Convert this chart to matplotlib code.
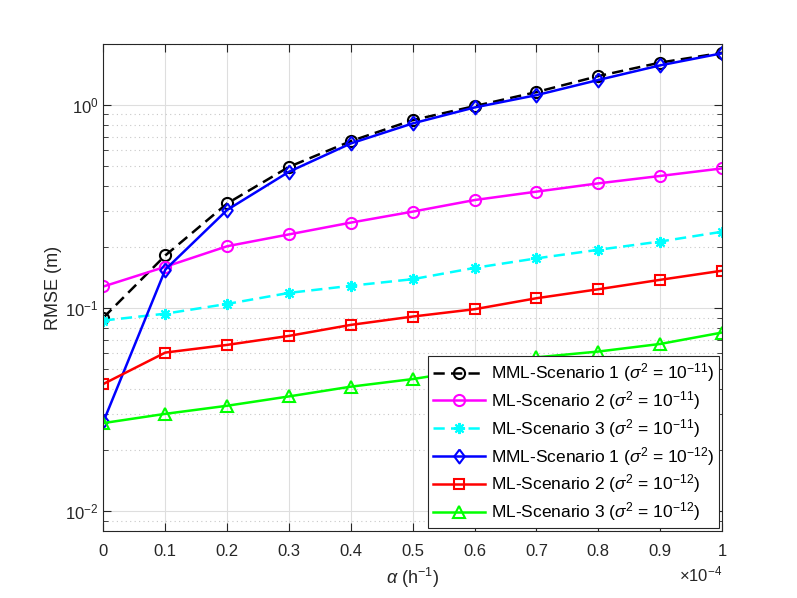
import matplotlib
matplotlib.use('Agg')
import matplotlib.pyplot as plt
from matplotlib.ticker import FixedLocator, FuncFormatter, LogLocator, NullFormatter

plt.rcParams['font.family'] = ['Liberation Sans', 'DejaVu Sans']
plt.rcParams['mathtext.fontset'] = 'custom'
plt.rcParams['mathtext.rm'] = 'Liberation Sans'
plt.rcParams['mathtext.it'] = 'Liberation Sans:italic'

# alpha values (h^-1)
alpha = [0, 0.1e-4, 0.2e-4, 0.3e-4, 0.4e-4, 0.5e-4, 0.6e-4, 0.7e-4, 0.8e-4, 0.9e-4, 1.0e-4]

# RMSE (m)
mml_s1_11 = [0.090, 0.182, 0.328, 0.497, 0.665, 0.844, 0.989, 1.16, 1.39, 1.62, 1.81]
ml_s2_11 = [0.128, 0.160, 0.202, 0.231, 0.264, 0.299, 0.341, 0.375, 0.412, 0.448, 0.488]
ml_s3_11 = [0.087, 0.094, 0.105, 0.119, 0.129, 0.139, 0.158, 0.176, 0.194, 0.213, 0.238]
mml_s1_12 = [0.0277, 0.155, 0.305, 0.470, 0.648, 0.813, 0.974, 1.12, 1.33, 1.57, 1.80]
ml_s2_12 = [0.0424, 0.0605, 0.066, 0.0731, 0.0828, 0.091, 0.0989, 0.112, 0.124, 0.138, 0.153]
ml_s3_12 = [0.0272, 0.0302, 0.0331, 0.0368, 0.0411, 0.0448, 0.050, 0.0573, 0.0612, 0.0667, 0.0759]

labels = [
    r'MML-Scenario 1 ($\sigma^2$ = 10$^{-11}$)',
    r'ML-Scenario 2 ($\sigma^2$ = 10$^{-11}$)',
    r'ML-Scenario 3 ($\sigma^2$ = 10$^{-11}$)',
    r'MML-Scenario 1 ($\sigma^2$ = 10$^{-12}$)',
    r'ML-Scenario 2 ($\sigma^2$ = 10$^{-12}$)',
    r'ML-Scenario 3 ($\sigma^2$ = 10$^{-12}$)',
]

# MATLAB-like diamond (a bit wider than matplotlib's 'd')
diamond = [(0, 1), (0.75, 0), (0, -1), (-0.75, 0), (0, 1)]

fig = plt.figure(figsize=(7.97, 5.98), dpi=100)
ax = fig.add_axes([103.5 / 797, 1 - 531 / 598, (722 - 103.5) / 797, (531 - 44) / 598])

mk = dict(markersize=8, markeredgewidth=1.5, fillstyle='none', lw=1.8)
ax.plot(alpha, mml_s1_11, 'o', ls=(0, (4.5, 2.5)), color='k', label=labels[0], **mk)
ax.plot(alpha, ml_s2_11, 'o-', color='#FF00FF', label=labels[1], **mk)
ax.plot(alpha, ml_s3_11, ls=(0, (4.5, 2.5)), marker=(8, 2, 0), color='#00FFFF',
        label=labels[2], **mk)
ax.plot(alpha, mml_s1_12, ls='-', marker=diamond, color='#0000FF', label=labels[3],
        **dict(mk, markersize=10))
ax.plot(alpha, ml_s2_12, 's-', color='#FF0000', label=labels[4], **dict(mk, markersize=7))
ax.plot(alpha, ml_s3_12, '^-', color='#00FF00', label=labels[5], **dict(mk, markersize=9))

ax.set_yscale('log')
ax.set_xlim(0, 1e-4)
ax.set_ylim(0.008, 2)

ax.xaxis.set_major_locator(FixedLocator(alpha))
ax.xaxis.set_major_formatter(FuncFormatter(lambda v, p: '%g' % round(v * 1e4, 6)))
ax.yaxis.set_major_locator(LogLocator(base=10, numticks=10))
ax.yaxis.set_minor_locator(LogLocator(base=10, subs=range(2, 10), numticks=20))
ax.yaxis.set_minor_formatter(NullFormatter())

ax.grid(True, which='major', color='#DEDEDE', lw=0.8, ls='-')
ax.grid(True, which='minor', axis='y', color='#C8C8C8', lw=0.8, ls=(0, (1, 3)))
ax.set_axisbelow(True)

ax.tick_params(which='both', direction='in', top=True, right=True, colors='#262626',
               labelsize=12)
ax.tick_params(which='major', length=6)
ax.tick_params(which='minor', length=3.5)
ax.tick_params(axis='x', pad=9)
for s in ax.spines.values():
    s.set_color('#262626')
    s.set_linewidth(0.8)

ax.set_xlabel(r'$\alpha$ (h$^{-1}$)', fontsize=13, color='#262626', labelpad=5)
ax.set_ylabel('RMSE (m)', fontsize=13, color='#262626', labelpad=2)
ax.text(1.0, -0.09, r'$\times$10$^{-4}$', transform=ax.transAxes, ha='right', va='center',
        fontsize=12, color='#262626')

leg = ax.legend(loc='lower right', fontsize=12.5, fancybox=False, framealpha=1,
                edgecolor='#262626', borderaxespad=0.15, handlelength=3.0,
                labelspacing=0.28, borderpad=0.3, handletextpad=0.3)
leg.get_frame().set_linewidth(0.8)

fig.savefig('out.png', dpi=100)
